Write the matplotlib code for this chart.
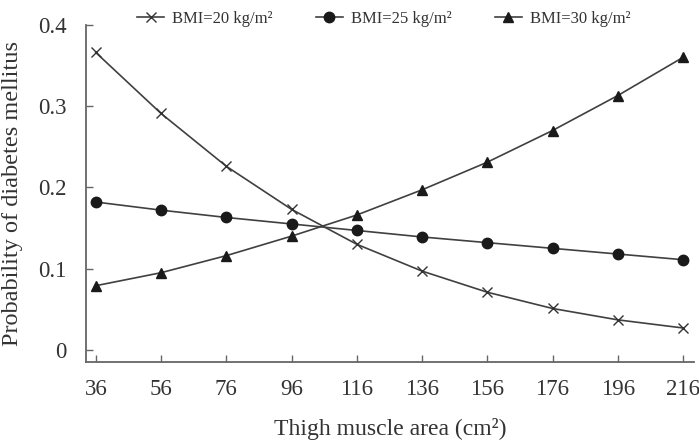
import matplotlib
matplotlib.use('Agg')
import matplotlib.pyplot as plt

plt.rcParams['font.family'] = ['Liberation Serif', 'DejaVu Serif']

area = [36, 56, 76, 96, 116, 136, 156, 176, 196, 216]
bmi20 = [0.366, 0.291, 0.226, 0.173, 0.130, 0.097, 0.071, 0.051, 0.037, 0.027]
bmi25 = [0.182, 0.172, 0.163, 0.155, 0.147, 0.139, 0.132, 0.125, 0.118, 0.111]
bmi30 = [0.079, 0.095, 0.116, 0.140, 0.166, 0.197, 0.231, 0.270, 0.313, 0.360]
yticks = [0, 0.1, 0.2, 0.3, 0.4]
ylabels = ['0', '0.1', '0.2', '0.3', '0.4']

txt = '#333333'
line = '#404040'

fig = plt.figure(figsize=(6.99, 4.44), dpi=100)
ax = fig.add_axes([0.123, 0.185, 0.870, 0.759])

ax.plot(area, bmi20, color=line, lw=1.2, marker='x', ms=7, mew=1.0, mec='#333333',
        label='BMI=20 kg/m²')
ax.plot(area, bmi25, color=line, lw=1.2, marker='o', ms=7.5, mfc='#1a1a1a', mec='#1a1a1a',
        label='BMI=25 kg/m²')
ax.plot(area, bmi30, color=line, lw=1.2, marker='^', ms=7, mfc='#1a1a1a', mec='#1a1a1a',
        label='BMI=30 kg/m²')

ax.set_xlim(33, 219.4)
ax.set_ylim(-0.0147, 0.4)
ax.set_xticks(area)
ax.set_yticks(yticks)
ax.set_yticklabels(ylabels)

for s in ['top', 'right']:
    ax.spines[s].set_visible(False)
for s in ['left', 'bottom']:
    ax.spines[s].set_color('#666666')
    ax.spines[s].set_linewidth(1.3)

ax.tick_params(direction='in', length=5, width=1.0, color='#666666',
               labelsize=16.5, labelcolor=txt)
ax.tick_params(axis='x', pad=12)
ax.tick_params(axis='y', pad=14)

ax.set_xlabel('Thigh muscle area (cm²)', fontsize=17, color=txt, labelpad=13)
ax.set_ylabel('Probability of diabetes mellitus', fontsize=17.5, color=txt, labelpad=11)

ax.legend(loc='lower center', bbox_to_anchor=(0.49, 0.975), ncol=3, frameon=False,
          fontsize=12, labelcolor=txt, handlelength=1.6, columnspacing=2.6,
          handletextpad=0.5, borderaxespad=0)

fig.savefig('out.png', dpi=100)
